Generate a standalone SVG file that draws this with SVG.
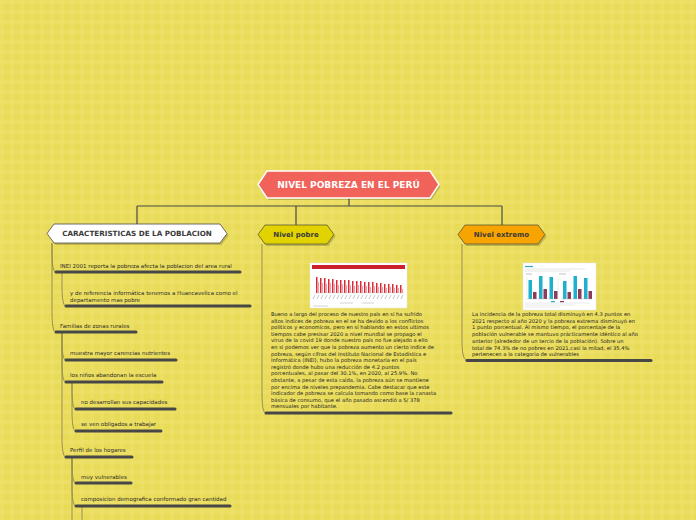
<svg xmlns="http://www.w3.org/2000/svg" width="696" height="520" viewBox="0 0 696 520">
<defs>
<pattern id="bg" width="10" height="10" patternUnits="userSpaceOnUse">
<rect width="10" height="10" fill="#e8db58"/>
<rect x="0" y="0" width="10" height="4" fill="#efe270" opacity="0.45"/>
<rect x="0" y="0" width="4" height="10" fill="#efe270" opacity="0.45"/>
</pattern>
<style>
.node text{font-family:"DejaVu Sans",Verdana,sans-serif;font-weight:bold;text-anchor:middle}
.t{font-family:"DejaVu Sans",Verdana,sans-serif;font-size:5.5px;fill:#2b2b2b}
.p{font-family:"DejaVu Sans",Verdana,sans-serif;font-size:5.2px;fill:#1f1f1f}
.ul{stroke:#474747;stroke-width:3;stroke-linecap:round;fill:none}
.br{stroke:#978d48;stroke-width:1;fill:none}
.top{stroke:#4a4a4a;stroke-width:1.2;fill:none}
.sh{fill:#000;opacity:0.18}
</style>
</defs>
<rect width="696" height="520" fill="url(#bg)"/>

<g id="connectors">
<path class="top" d="M349,198 V206 M137,206 H502 M137,206 V224 M296,206 V225 M502,206 V225"/>
<path class="br" d="M52,243 V252 C52,264 53,272 56,272"/>
<path class="br" d="M52,243 V312 C52,324 53,332 56,332"/>
<path class="br" d="M62,272 V286 C62,298 63,306 66,306"/>
<path class="br" d="M62,332 V340 C62,352 63,360 66,360"/>
<path class="br" d="M62,332 V362 C62,374 63,382 66,382"/>
<path class="br" d="M62,332 V437 C62,449 63,457 66,457"/>
<path class="br" d="M72,382 V389 C72,401 73,409 76,409"/>
<path class="br" d="M72,382 V411 C72,423 73,431 76,431"/>
<path class="br" d="M72,457 V463 C72,475 73,483 76,483"/>
<path class="br" d="M72,457 V486 C72,498 73,506 76,506"/>
<path class="br" d="M72,457 V520"/>
<path class="br" d="M82,506 V520"/>
<path class="br" d="M262,244 V393 C262,405 263,413 266,413"/>
<path class="br" d="M462,244 V340 C462,352 463,360 467,360"/>
</g>

<g id="root" class="node">
<path class="sh" d="M259.5,186.5 L268.5,173 L431.5,173 L440.5,186.5 L431.5,200 L268.5,200 Z"/>
<path d="M258,184.5 L267,171 L430,171 L439,184.5 L430,198 L267,198 Z" fill="#f0625a" stroke="#ffffff" stroke-width="1.5"/>
<text x="348.5" y="188" font-size="9" fill="#ffffff">NIVEL POBREZA EN EL PERÚ</text>
</g>

<g id="caracteristicas" class="node">
<path class="sh" d="M48.5,235.5 L55.5,226 L221.5,226 L228.5,235.5 L221.5,245 L55.5,245 Z"/>
<path d="M47,233.5 L54,224 L220,224 L227,233.5 L220,243 L54,243 Z" fill="#ffffff" stroke="#4a4a4a" stroke-width="0.8"/>
<text x="137" y="236" font-size="7.2" fill="#3a3a3a">CARACTERISTICAS DE LA POBLACION</text>
</g>

<g id="nivel-pobre" class="node">
<path class="sh" d="M259.5,236.5 L266.5,227 L328.5,227 L335.5,236.5 L328.5,246 L266.5,246 Z"/>
<path d="M258,234.5 L265,225 L327,225 L334,234.5 L327,244 L265,244 Z" fill="#e2d300" stroke="#5a5a3a" stroke-width="0.8"/>
<text x="296" y="237" font-size="7" fill="#3a3a3a">Nivel pobre</text>
</g>

<g id="nivel-extremo" class="node">
<path class="sh" d="M459.5,236.5 L466.5,227 L539.5,227 L546.5,236.5 L539.5,246 L466.5,246 Z"/>
<path d="M458,234.5 L465,225 L538,225 L545,234.5 L538,244 L465,244 Z" fill="#f7a300" stroke="#5a5a3a" stroke-width="0.8"/>
<text x="501.5" y="237" font-size="7" fill="#3a3a3a">Nivel extremo</text>
</g>

<g id="inei">
<text class="t" x="60" y="268">INEI 2001 reporta la pobreza afecta la poblacion del area rural</text>
<path class="ul" d="M56,272 H240"/>
</g>
<g id="referencia">
<text class="t" x="70" y="295">y de referencia informática tenemos a Huancavelica como el</text>
<text class="t" x="70" y="302">departamento mas pobre</text>
<path class="ul" d="M66,306 H250"/>
</g>
<g id="familias">
<text class="t" x="60" y="328">Familias de zonas rurales</text>
<path class="ul" d="M56,332 H136"/>
</g>
<g id="muestra">
<text class="t" x="70" y="355">muestra mayor carencias nutrientes</text>
<path class="ul" d="M66,360 H176"/>
</g>
<g id="ninos">
<text class="t" x="70" y="377">los niños abandonan la escuela</text>
<path class="ul" d="M66,382 H162"/>
</g>
<g id="capacidades">
<text class="t" x="81" y="404">no desarrollan sus capacidades</text>
<path class="ul" d="M76,409 H175"/>
</g>
<g id="trabajar">
<text class="t" x="81" y="426">se ven obligados a trabajar</text>
<path class="ul" d="M76,431 H161"/>
</g>
<g id="perfil">
<text class="t" x="70" y="452">Perfil de los hogares</text>
<path class="ul" d="M66,457 H132"/>
</g>
<g id="vulnerables">
<text class="t" x="81" y="479">muy vulnerables</text>
<path class="ul" d="M76,483 H131"/>
</g>
<g id="composicion">
<text class="t" x="81" y="501">composicion demografica conformado gran cantidad</text>
<path class="ul" d="M76,506 H230"/>
</g>

<g id="pobre-detalle">
<rect x="310" y="263" width="97" height="45" fill="#ffffff" stroke="#e6e6e6" stroke-width="0.5"/>
<rect x="312" y="265" width="93" height="4" fill="#c8202c"/>
<g fill="#d92b36">
<rect x="316" y="277" width="1.5" height="16"/><rect x="320" y="278" width="1.5" height="15"/><rect x="324" y="278" width="1.5" height="15"/>
<rect x="328" y="279" width="1.5" height="14"/><rect x="332" y="279" width="1.5" height="14"/><rect x="336" y="280" width="1.5" height="13"/>
<rect x="340" y="280" width="1.5" height="13"/><rect x="344" y="280" width="1.5" height="13"/><rect x="348" y="280" width="1.5" height="13"/>
<rect x="352" y="281" width="1.5" height="12"/><rect x="356" y="281" width="1.5" height="12"/><rect x="360" y="281" width="1.5" height="12"/>
<rect x="364" y="282" width="1.5" height="11"/><rect x="368" y="282" width="1.5" height="11"/><rect x="372" y="282" width="1.5" height="11"/>
<rect x="376" y="283" width="1.5" height="10"/><rect x="380" y="283" width="1.5" height="10"/><rect x="384" y="284" width="1.5" height="9"/>
<rect x="388" y="284" width="1.5" height="9"/><rect x="392" y="284" width="1.5" height="9"/><rect x="396" y="285" width="1.5" height="8"/>
<rect x="400" y="285" width="1.5" height="8"/>
</g>
<g fill="#f0a0a4">
<rect x="317.5" y="282" width="1.5" height="11"/><rect x="321.5" y="283" width="1.5" height="10"/><rect x="325.5" y="284" width="1.5" height="9"/>
<rect x="329.5" y="283" width="1.5" height="10"/><rect x="333.5" y="284" width="1.5" height="9"/><rect x="337.5" y="285" width="1.5" height="8"/>
<rect x="341.5" y="284" width="1.5" height="9"/><rect x="345.5" y="285" width="1.5" height="8"/><rect x="349.5" y="285" width="1.5" height="8"/>
<rect x="353.5" y="286" width="1.5" height="7"/><rect x="357.5" y="285" width="1.5" height="8"/><rect x="361.5" y="286" width="1.5" height="7"/>
<rect x="365.5" y="286" width="1.5" height="7"/><rect x="369.5" y="287" width="1.5" height="6"/><rect x="373.5" y="286" width="1.5" height="7"/>
<rect x="377.5" y="287" width="1.5" height="6"/><rect x="381.5" y="287" width="1.5" height="6"/><rect x="385.5" y="288" width="1.5" height="5"/>
<rect x="389.5" y="287" width="1.5" height="6"/><rect x="393.5" y="288" width="1.5" height="5"/><rect x="397.5" y="288" width="1.5" height="5"/>
<rect x="401.5" y="289" width="1.5" height="4"/>
</g>
<path d="M314,293 H404" stroke="#bbbbbb" stroke-width="0.4"/>
<path d="M315,295 l-2,4 M319,295 l-2,4 M323,295 l-2,4 M327,295 l-2,4 M331,295 l-2,4 M335,295 l-2,4 M339,295 l-2,4 M343,295 l-2,4 M347,295 l-2,4 M351,295 l-2,4 M355,295 l-2,4 M359,295 l-2,4 M363,295 l-2,4 M367,295 l-2,4 M371,295 l-2,4 M375,295 l-2,4 M379,295 l-2,4 M383,295 l-2,4 M387,295 l-2,4 M391,295 l-2,4 M395,295 l-2,4 M399,295 l-2,4 M403,295 l-2,4" stroke="#9a9a9a" stroke-width="0.6"/>
<path d="M340,303 H353 M362,303 H374 M313,306 H328" stroke="#c6c6c6" stroke-width="0.8"/>
<text class="p">
<tspan x="271" y="316">Bueno a largo del proceso de nuestro pais en si ha sufrido</tspan>
<tspan x="271" y="322.6">altos indices de pobreza en el se ha devido a los conflictos</tspan>
<tspan x="271" y="329.2">politicos y economicos, pero en si hablando en estos ultimos</tspan>
<tspan x="271" y="335.8">tiempos cabe presisar 2020 a nivel mundial se propago el</tspan>
<tspan x="271" y="342.4">virus de la covid 19 donde nuestro pais no fue alejado a ello</tspan>
<tspan x="271" y="349">en si podemos ver que la pobreza aumento un cierto indice de</tspan>
<tspan x="271" y="355.6">pobreza, según cifras del Instituto Nacional de Estadística e</tspan>
<tspan x="271" y="362.2">Informática (INEI), hubo la pobreza monetaria en el país</tspan>
<tspan x="271" y="368.8">registró donde hubo una reducción de 4.2 puntos</tspan>
<tspan x="271" y="375.4">porcentuales, al pasar del 30.1%, en 2020, al 25.9%. No</tspan>
<tspan x="271" y="382">obstante, a pesar de esta caída, la pobreza aún se mantiene</tspan>
<tspan x="271" y="388.6">por encima de niveles prepandemia. Cabe destacar que este</tspan>
<tspan x="271" y="395.2">indicador de pobreza se calcula tomando como base la canasta</tspan>
<tspan x="271" y="401.8">básica de consumo, que el año pasado ascendió a S/ 378</tspan>
<tspan x="271" y="408.4">mensuales por habitante.</tspan>
</text>
<path class="ul" d="M266,413 H451"/>
</g>

<g id="extremo-detalle">
<rect x="523" y="263" width="73" height="47" fill="#ffffff" stroke="#e6e6e6" stroke-width="0.5"/>
<path d="M525,266.5 H533" stroke="#2aa9c4" stroke-width="1.2"/>
<path d="M525,269 H585 M525,271 H570" stroke="#c8c8c8" stroke-width="0.5"/>
<path d="M526,274 H532 M559,274 H566" stroke="#9a9a9a" stroke-width="0.6"/>
<path d="M527,277 V300 M558,277 V300" stroke="#d8d8d8" stroke-width="0.4"/>
<g fill="#1eb0cc">
<rect x="528.5" y="280" width="3.5" height="19"/><rect x="539" y="276" width="3.5" height="23"/><rect x="549.5" y="277" width="3.5" height="22"/>
<rect x="563" y="281" width="3.5" height="18"/><rect x="573.5" y="276" width="3.5" height="23"/><rect x="584" y="278" width="3.5" height="21"/>
</g>
<g fill="#8e3a5a">
<rect x="533" y="292" width="3.5" height="7"/><rect x="543.5" y="289" width="3.5" height="10"/><rect x="554" y="291" width="3.5" height="8"/>
<rect x="567.5" y="292" width="3.5" height="7"/><rect x="578" y="289" width="3.5" height="10"/><rect x="588.5" y="291" width="3.5" height="8"/>
</g>
<path d="M527,299 H557 M561,299 H592" stroke="#aaaaaa" stroke-width="0.4"/>
<path d="M525,303 H590 M525,305 H575 M525,307 H560" stroke="#d0d0d0" stroke-width="0.5"/>
<rect x="551" y="301" width="4" height="1.2" fill="#1eb0cc"/><rect x="560" y="301" width="4" height="1.2" fill="#8e3a5a"/>
<text class="p">
<tspan x="472" y="316">La incidencia de la pobreza total disminuyó en 4.3 puntos en</tspan>
<tspan x="472" y="322.7">2021 respecto al año 2020 y la pobreza extrema disminuyó en</tspan>
<tspan x="472" y="329.4">1 punto porcentual. Al mismo tiempo, el porcentaje de la</tspan>
<tspan x="472" y="336.1">población vulnerable se mantuvo prácticamente idéntico al año</tspan>
<tspan x="472" y="342.8">anterior (alrededor de un tercio de la población). Sobre un</tspan>
<tspan x="472" y="349.5">total de 74.3% de no pobres en 2021,casi la mitad, el 35.4%</tspan>
<tspan x="472" y="356.2">pertenecen a la categoría de vulnerables</tspan>
</text>
<path class="ul" d="M467,360.5 H651"/>
</g>
</svg>
